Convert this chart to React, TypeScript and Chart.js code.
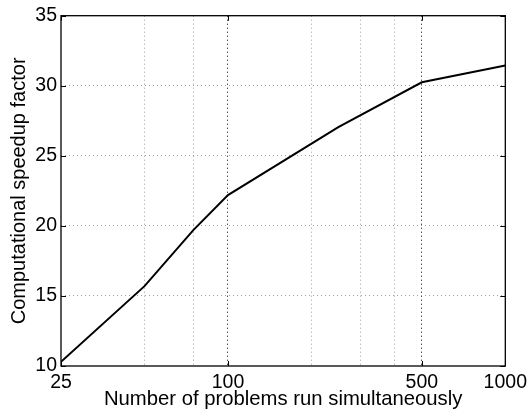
import React, { useEffect, useRef } from "react";
import { Chart, registerables } from "chart.js";

Chart.register(...registerables);

const problems = [25, 50, 75, 100, 250, 500, 1000];
const speedup = [10.3, 15.7, 19.7, 22.2, 27.05, 30.25, 31.45];
const xGridValues = [25, 50, 75, 100, 200, 300, 400, 500, 1000];
const xLabelValues = [25, 100, 500, 1000];
const xMajorGrid = [100, 500];
const yTicks = [10, 15, 20, 25, 30, 35];

const FONT = "'Liberation Sans', Arial, Helvetica, sans-serif";

const framePlugin = {
  id: "frame",
  afterDraw(chart: any) {
    const { ctx, chartArea } = chart;
    const { left, right, top, bottom } = chartArea;
    const xs = chart.scales.x;
    const ys = chart.scales.y;
    ctx.save();
    ctx.strokeStyle = "#000";
    ctx.lineWidth = 1.3;
    ctx.setLineDash([]);
    ctx.strokeRect(left, top, right - left, bottom - top);
    ctx.lineWidth = 1;
    ctx.beginPath();
    const tl = 5;
    for (const v of yTicks) {
      const y = Math.round(ys.getPixelForValue(v)) + 0.5;
      ctx.moveTo(left, y);
      ctx.lineTo(left + tl, y);
      ctx.moveTo(right, y);
      ctx.lineTo(right - tl, y);
    }
    for (const v of xLabelValues) {
      const x = Math.round(xs.getPixelForValue(v)) + 0.5;
      ctx.moveTo(x, bottom);
      ctx.lineTo(x, bottom - tl);
      ctx.moveTo(x, top);
      ctx.lineTo(x, top + tl);
    }
    ctx.stroke();
    ctx.restore();
  },
};

export default function App() {
  const ref = useRef<HTMLCanvasElement | null>(null);
  useEffect(() => {
    if (!ref.current) return;
    const chart = new Chart(ref.current, {
      type: "line",
      data: {
        datasets: [
          {
            data: problems.map((p, i) => ({ x: p, y: speedup[i] })),
            borderColor: "#000",
            borderWidth: 2,
            pointRadius: 0,
            tension: 0,
            fill: false,
          },
        ],
      },
      options: {
        animation: false,
        responsive: false,
        layout: { padding: { left: 0, right: 25, top: 15, bottom: 0 } },
        plugins: { legend: { display: false }, tooltip: { enabled: false } },
        scales: {
          x: {
            type: "logarithmic",
            min: 25,
            max: 1000,
            afterBuildTicks: (s: any) => {
              s.ticks = xGridValues.map((v) => ({ value: v }));
            },
            afterFit: (s: any) => {
              s.height = 47;
            },
            ticks: {
              autoSkip: false,
              maxRotation: 0,
              minRotation: 0,
              padding: 5,
              color: "#000",
              font: { family: FONT, size: 19.5 },
              callback: (v: any) => (xLabelValues.includes(Number(v)) ? String(v) : ""),
            },
            grid: {
              drawTicks: false,
              lineWidth: 1,
              color: (c: any) => {
                const v = c.tick ? c.tick.value : 0;
                if (v === 25 || v === 1000) return "rgba(0,0,0,0)";
                return xMajorGrid.includes(v) ? "#000" : "#a0a0a0";
              },
            },
            border: { display: false, dash: [1, 3] },
            title: {
              display: true,
              text: "Number of problems run simultaneously",
              color: "#000",
              font: { family: FONT, size: 20.3, lineHeight: 1 },
              padding: { top: 0, bottom: 3 },
            },
          },
          y: {
            type: "linear",
            min: 10,
            max: 35,
            afterBuildTicks: (s: any) => {
              s.ticks = yTicks.map((v) => ({ value: v }));
            },
            afterFit: (s: any) => {
              s.width = 61;
            },
            ticks: {
              padding: 4,
              color: "#000",
              font: { family: FONT, size: 19.5 },
            },
            grid: {
              drawTicks: false,
              lineWidth: 1,
              color: (c: any) => {
                const v = c.tick ? c.tick.value : 0;
                if (v === 10 || v === 35) return "rgba(0,0,0,0)";
                return "#a0a0a0";
              },
            },
            border: { display: false, dash: [1, 3] },
            title: {
              display: true,
              text: "Computational speedup factor",
              color: "#000",
              font: { family: FONT, size: 20, lineHeight: 1 },
              padding: { top: 9, bottom: 0 },
            },
          },
        },
      },
      plugins: [framePlugin],
    });
    return () => chart.destroy();
  }, []);
  return (
    <div style={{ position: "fixed", left: 0, top: 0, width: 532, height: 413 }}>
      <canvas ref={ref} width={532} height={413} style={{ display: "block" }} />
    </div>
  );
}
